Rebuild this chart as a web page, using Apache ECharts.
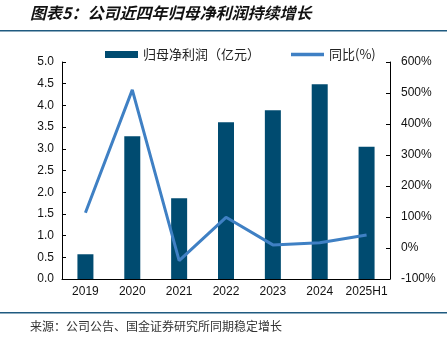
<!DOCTYPE html>
<html><head><meta charset="utf-8">
<script src="https://cdn.jsdelivr.net/npm/echarts@6/dist/echarts.min.js"></script>
<style>html,body{margin:0;padding:0;background:#fff}#c{width:447px;height:341px}</style>
</head><body><div id="c"></div>
<script>
const categories = ['2019','2020','2021','2022','2023','2024','2025H1'];
const netProfit = [0.57, 3.29, 1.86, 3.61, 3.89, 4.49, 3.05];
const yoy = [114, 510, -41, 99, 10, 17, 42];
const leftTicks = {min: 0, max: 5, interval: 0.5};
const rightTicks = {min: -100, max: 600, interval: 100};
const titleText = '图表5：公司近四年归母净利润持续增长';
const sourceText = '来源：公司公告、国金证券研究所同期稳定增长';

const chart = echarts.init(document.getElementById('c'));
const font = '"Liberation Sans", Arial, sans-serif';
chart.setOption({
  animation: false,
  graphic: [
    {type:'text', left: 30, top: 5, style:{text: titleText, font:'italic bold 16px "Noto Sans CJK SC"', fill:'#111'}},
    {type:'rect', shape:{x:0,y:30,width:447,height:1.5}, style:{fill:'#1f5a80'}},
    {type:'rect', shape:{x:0,y:312,width:447,height:1.5}, style:{fill:'#1f5a80'}},
    {type:'text', left: 30, top: 320, style:{text: sourceText, font:'12px "Noto Sans CJK SC"', fill:'#333'}}
  ],
  legend: {
    top: 43, left: 100, itemGap: 31, itemWidth: 33, itemHeight: 7,
    textStyle: {fontSize: 13, color: '#222', fontFamily: '"Noto Sans CJK SC"'},
    data: [
      {name:'归母净利润（亿元）', icon:'rect'},
      {name:'同比(%)', icon:'path://M0,0H10V1H0Z'}
    ]
  },
  grid: {left: 62, right: 57, top: 62, bottom: 62},
  xAxis: {
    type: 'category', data: categories,
    axisLine: {lineStyle: {color: '#000', width: 1}},
    axisTick: {inside: true, length: 4, lineStyle:{color:'#000'}},
    axisLabel: {color: '#111', fontSize: 12, fontFamily: font, margin: 7, interval: 0}
  },
  yAxis: [
    {type:'value', min:leftTicks.min, max:leftTicks.max, interval:leftTicks.interval,
     axisLine:{show:true, lineStyle:{color:'#000'}},
     axisTick:{show:true, inside:true, length:4, lineStyle:{color:'#000'}},
     splitLine:{show:false},
     axisLabel:{color:'#111', fontSize:12, fontFamily:font, margin:8, formatter: v => v.toFixed(1)}},
    {type:'value', min:rightTicks.min, max:rightTicks.max, interval:rightTicks.interval,
     axisLine:{show:true, lineStyle:{color:'#000'}},
     axisTick:{show:true, inside:true, length:4, lineStyle:{color:'#000'}},
     splitLine:{show:false},
     axisLabel:{color:'#111', fontSize:12, fontFamily:font, margin:11, formatter: v => v + '%'}}
  ],
  series: [
    {name:'归母净利润（亿元）', type:'bar', data: netProfit, barWidth: 16,
     itemStyle:{color:'#004b70'}},
    {name:'同比(%)', type:'line', yAxisIndex:1, data: yoy, symbol:'none',
     lineStyle:{color:'#3f80c4', width:3}, itemStyle:{color:'#3f80c4'}}
  ]
});
</script></body></html>
